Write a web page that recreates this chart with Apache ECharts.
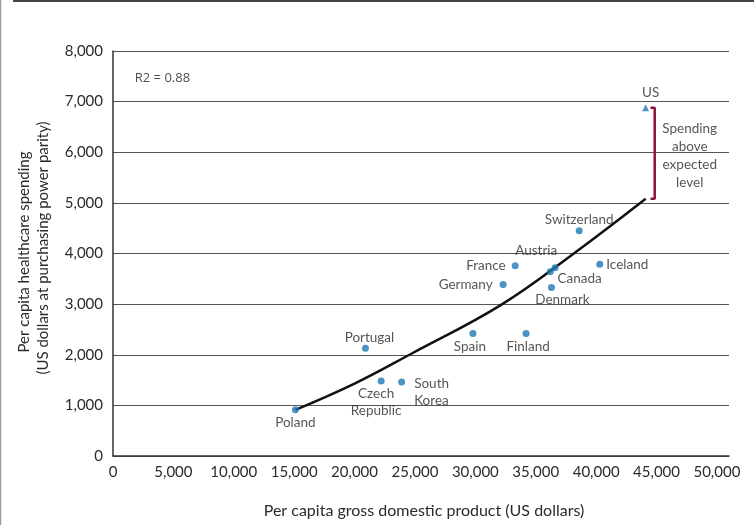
<!DOCTYPE html>
<html>
<head>
<meta charset="utf-8">
<script src="https://cdn.jsdelivr.net/npm/echarts@6/dist/echarts.min.js"></script>
<style>
  html, body { margin: 0; padding: 0; background: #fff; }
  #chart { width: 754px; height: 525px; }
</style>
</head>
<body>
<div id="chart"></div>
<script>
// Per capita GDP vs per capita healthcare spending, OECD countries
const countries = ['Poland', 'Portugal', 'Czech Republic', 'South Korea', 'Spain', 'Finland',
  'Germany', 'France', 'Austria', 'Canada', 'Denmark', 'Iceland', 'Switzerland'];
const gdp = [15100, 20900, 22200, 23900, 29800, 34200, 32300, 33300, 36200, 36600, 36300, 40300, 38600];
const spending = [915, 2130, 1480, 1460, 2420, 2420, 3390, 3760, 3640, 3720, 3330, 3790, 4450];

const usName = 'US';
const usGdp = 44100;
const usSpending = 6880;

// fitted trend
const trendGdp = [15100, 20000, 24700, 32100, 38100, 44100];
const trendSpending = [910, 1430, 2020, 2980, 3990, 5080];

const xTicks = [0, 5000, 10000, 15000, 20000, 25000, 30000, 35000, 40000, 45000, 50000];
const yTicks = [0, 1000, 2000, 3000, 4000, 5000, 6000, 7000, 8000];

const rSquaredText = 'R2 = 0.88';
const bracketText = 'Spending\nabove\nexpected\nlevel';
const xTitle = 'Per capita gross domestic product (US dollars)';
const yTitle1 = 'Per capita healthcare spending';
const yTitle2 = '(US dollars at purchasing power parity)';

// label placement per country
const labelPlace = {
  'Poland': { position: 'bottom', offset: [0, -4] },
  'Portugal': { position: 'top', offset: [4, 6] },
  'Czech Republic': { position: 'bottom', offset: [-5, -4], text: 'Czech\nRepublic' },
  'South Korea': { position: 'right', offset: [4, 10], text: 'South\nKorea', align: 'left' },
  'Spain': { position: 'bottom', offset: [-3, -4] },
  'Finland': { position: 'bottom', offset: [2, -4] },
  'Germany': { position: 'left', offset: [-2, 0] },
  'France': { position: 'left', offset: [-1, 0] },
  'Austria': { position: 'top', offset: [-14, -4] },
  'Canada': { position: 'right', offset: [-6, 11] },
  'Denmark': { position: 'bottom', offset: [11, -5] },
  'Iceland': { position: 'right', offset: [-2, 1] },
  'Switzerland': { position: 'top', offset: [0, 6] }
};

const FONT = 'Lato, "Open Sans", sans-serif';
const TEXT = '#2b2b2b';
const DOT = '#1f78b4';

const pointData = countries.map((name, i) => {
  const p = labelPlace[name];
  return {
    name: name,
    value: [gdp[i], spending[i]],
    label: {
      show: true,
      position: p.position,
      offset: p.offset,
      formatter: p.text || name,
      align: p.align,
      lineHeight: 17
    }
  };
});

const trendData = trendGdp.map((g, i) => [g, trendSpending[i]]);

// bracket from the US value down to the trend level at US GDP
const trendAtUs = trendSpending[trendSpending.length - 1];
const bracketX = usGdp + 750;
const bracketTickX = usGdp + 400;
const bracketData = [
  [bracketTickX, usSpending],
  [bracketX, usSpending],
  [bracketX, trendAtUs],
  [bracketTickX, trendAtUs]
];

const fmt = v => v.toLocaleString('en-US');

const chart = echarts.init(document.getElementById('chart'), null, { renderer: 'canvas' });

chart.setOption({
  backgroundColor: '#fff',
  animation: false,
  textStyle: { fontFamily: FONT },
  grid: { left: 113, top: 51, right: 25, bottom: 69, containLabel: false },
  xAxis: {
    type: 'value',
    min: 0,
    max: 51000,
    interval: 5000,
    axisLine: { show: true, lineStyle: { color: '#333', width: 1.5 } },
    axisTick: { show: false },
    splitLine: { show: false },
    axisLabel: {
      color: TEXT, fontSize: 15, fontFamily: FONT, margin: 9,
      formatter: v => (xTicks.includes(v) ? fmt(v) : '')
    }
  },
  yAxis: {
    type: 'value',
    min: 0,
    max: 8000,
    interval: 1000,
    axisLine: { show: true, lineStyle: { color: '#333', width: 1.5 } },
    axisTick: { show: false },
    splitLine: { show: true, lineStyle: { color: '#555', width: 1 } },
    axisLabel: {
      color: TEXT, fontSize: 15, fontFamily: FONT, margin: 10,
      formatter: v => (yTicks.includes(v) ? fmt(v) : '')
    }
  },
  series: [
    {
      type: 'line',
      data: trendData,
      smooth: 0.4,
      showSymbol: false,
      symbol: 'none',
      lineStyle: { color: '#111', width: 2.5 },
      z: 2,
      silent: true
    },
    {
      type: 'scatter',
      data: pointData,
      symbol: 'circle',
      symbolSize: 7,
      itemStyle: { color: DOT },
      label: { color: TEXT, fontSize: 13.5, fontFamily: FONT, distance: 5 },
      z: 3
    },
    {
      type: 'scatter',
      data: [{ name: usName, value: [usGdp, usSpending] }],
      symbol: 'triangle',
      symbolSize: 7,
      itemStyle: { color: DOT },
      label: {
        show: true, position: 'top', formatter: usName, offset: [5, 0],
        color: TEXT, fontSize: 13.5, fontFamily: FONT
      },
      z: 3
    },
    {
      type: 'line',
      data: bracketData,
      showSymbol: false,
      symbol: 'none',
      lineStyle: { color: '#8a1538', width: 2.5 },
      z: 4,
      silent: true
    },
    {
      type: 'scatter',
      data: [[bracketX + 2900, (usSpending + trendAtUs) / 2 - 50]],
      symbolSize: 0,
      label: {
        show: true, position: 'inside', formatter: bracketText,
        color: TEXT, fontSize: 13.5, fontFamily: FONT, lineHeight: 18, align: 'center'
      },
      silent: true
    },
    {
      type: 'scatter',
      data: [[1800, 7460]],
      symbolSize: 0,
      label: {
        show: true, position: 'right', formatter: rSquaredText, distance: 0,
        color: '#222', fontSize: 13, fontFamily: '"Open Sans", sans-serif'
      },
      silent: true
    }
  ],
  graphic: [
    { type: 'line', shape: { x1: 0.5, y1: 0, x2: 0.5, y2: 525 }, style: { stroke: '#9a9a9a', lineWidth: 1.5 } },
    { type: 'line', shape: { x1: 13, y1: 1, x2: 754, y2: 1 }, style: { stroke: '#444', lineWidth: 2 } },
    {
      type: 'text', x: 424, y: 511,
      style: { text: xTitle, fill: TEXT, font: '16px ' + FONT, textAlign: 'center', textVerticalAlign: 'middle' }
    },
    {
      type: 'text', x: 24, y: 252, rotation: Math.PI / 2,
      style: { text: yTitle1, fill: TEXT, font: '15px ' + FONT, textAlign: 'center', textVerticalAlign: 'middle' }
    },
    {
      type: 'text', x: 43, y: 248, rotation: Math.PI / 2,
      style: { text: yTitle2, fill: TEXT, font: '15px ' + FONT, textAlign: 'center', textVerticalAlign: 'middle' }
    }
  ]
});
</script>
</body>
</html>
